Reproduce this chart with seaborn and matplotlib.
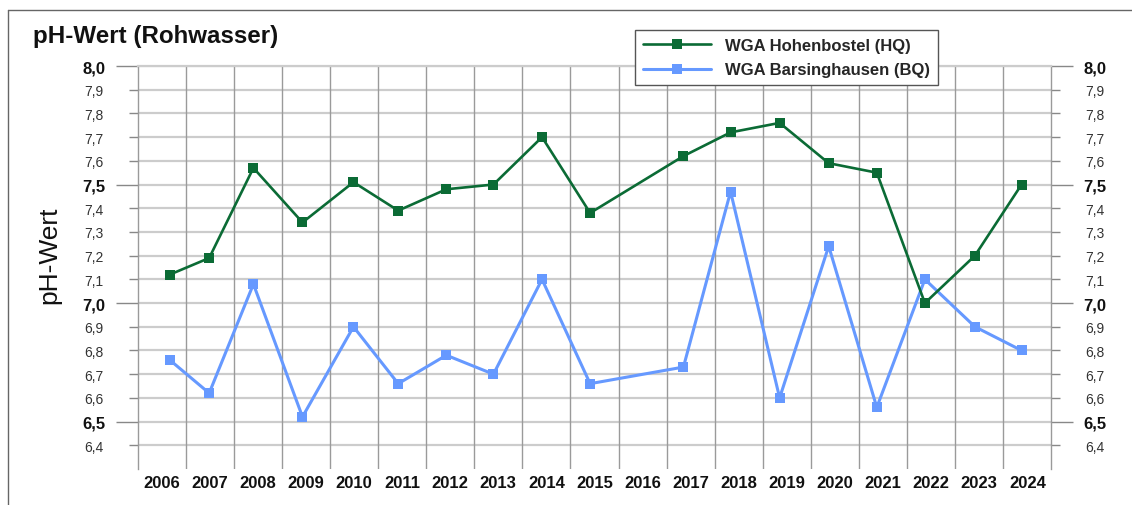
import matplotlib
matplotlib.use("Agg")
import matplotlib.pyplot as plt
import matplotlib.ticker as mtick
from matplotlib.lines import Line2D
import seaborn as sns
import pandas as pd

# Sampling dates as decimal years (same for both waterworks)
sample_dates = [2006.67, 2007.49, 2008.41, 2009.43, 2010.49, 2011.42, 2012.42, 2013.40, 2014.41,
                2015.41, 2017.35, 2018.33, 2019.35, 2020.37, 2021.37, 2022.37, 2023.41, 2024.38]
ph_hq = [7.12, 7.19, 7.57, 7.34, 7.51, 7.39, 7.48, 7.50, 7.70,
         7.38, 7.62, 7.72, 7.76, 7.59, 7.55, 7.00, 7.20, 7.50]
ph_bq = [6.76, 6.62, 7.08, 6.52, 6.90, 6.66, 6.78, 6.70, 7.10,
         6.66, 6.73, 7.47, 6.60, 7.24, 6.56, 7.10, 6.90, 6.80]
year_labels = [str(y) for y in range(2006, 2025)]
label_hq = 'WGA Hohenbostel (HQ)'
label_bq = 'WGA Barsinghausen (BQ)'

GREEN = '#0b6b35'
BLUE = '#6699ff'

sns.set_style('white')
plt.rcParams['font.family'] = ['Liberation Sans', 'DejaVu Sans']

df = pd.DataFrame({'Datum': sample_dates, 'HQ': ph_hq, 'BQ': ph_bq})

W, H = 1132, 506
fig = plt.figure(figsize=(W / 100, H / 100), dpi=100)
left, right, top, bottom = 137.5, 1051.4, 67, 470
ax = fig.add_axes([left / W, 1 - bottom / H, (right - left) / W, (bottom - top) / H])

sns.lineplot(data=df, x='Datum', y='HQ', ax=ax, color=GREEN, linewidth=1.9,
             marker='s', markersize=7, markeredgewidth=0, label=label_hq, zorder=4)
sns.lineplot(data=df, x='Datum', y='BQ', ax=ax, color=BLUE, linewidth=2.2,
             marker='s', markersize=7, markeredgewidth=0, label=label_bq, zorder=3)

ax.set_xlim(2006, 2025)
ax.set_ylim(6.3, 8.0)

# x axis: gridlines at year boundaries, labels centred in each year
ax.set_xticks(range(2006, 2026))
ax.set_xticklabels([])
ax.set_xticks([y + 0.5 for y in range(2006, 2025)], minor=True)
ax.set_xticklabels(year_labels, minor=True, fontsize=12, fontweight='bold')
ax.tick_params(axis='x', which='both', length=0, pad=4, colors='#111111')

# y axis: bold labels at every 0.5, normal ones in between, on both sides
major_y = [6.5, 7.0, 7.5, 8.0]
minor_y = [6.4, 6.6, 6.7, 6.8, 6.9, 7.1, 7.2, 7.3, 7.4, 7.6, 7.7, 7.8, 7.9]
fmt = mtick.FuncFormatter(lambda v, _: f'{v:.1f}'.replace('.', ','))
ax.yaxis.set_major_locator(mtick.FixedLocator(major_y))
ax.yaxis.set_minor_locator(mtick.FixedLocator(minor_y))
ax.yaxis.set_major_formatter(fmt)
ax.yaxis.set_minor_formatter(fmt)
ax.tick_params(axis='y', which='major', length=16, width=1, pad=7, color='#888888',
               labelsize=12, left=True, right=True, labelleft=True, labelright=True)
ax.tick_params(axis='y', which='minor', length=6.5, width=1, pad=18, color='#888888',
               labelsize=10, left=True, right=True, labelleft=True, labelright=True,
               labelcolor='#333333')
for lab in ax.get_yticklabels():
    lab.set_fontweight('bold')
    lab.set_color('#111111')

# grid lines
for yv in major_y + minor_y:
    ax.axhline(yv, color='#cccccc', linewidth=1.6, zorder=1)
for xv in range(2007, 2025):
    ax.axvline(xv, color='#9a9a9a', linewidth=1, zorder=1)

ax.spines['bottom'].set_visible(False)
ax.spines['top'].set_color('#cccccc')
ax.spines['top'].set_linewidth(1.6)
for s in ['left', 'right']:
    ax.spines[s].set_color('#9a9a9a')
    ax.spines[s].set_linewidth(1)

ax.set_xlabel('')
ax.set_ylabel('')

leg = ax.legend(loc='upper left', bbox_to_anchor=(635 / W, 1 - 31 / H), bbox_transform=fig.transFigure,
                borderaxespad=0, frameon=True, fancybox=False, framealpha=1, edgecolor='#555555',
                prop={'size': 12, 'weight': 'bold'}, handlelength=4.1, handletextpad=0.85,
                labelspacing=0.6, borderpad=0.45, markerscale=1.1)
leg.get_frame().set_linewidth(1)
leg.set_zorder(10)

fig.text(33 / W, 1 - 37 / H, 'pH-Wert (Rohwasser)', fontsize=17.4, fontweight='bold',
         va='center', ha='left', color='#111111')
fig.text(49 / W, 1 - 255 / H, 'pH-Wert', fontsize=19, rotation=90, va='center', ha='center',
         color='#111111')

# outer frame of the graphic
fig.add_artist(Line2D([8 / W, 1.0], [1 - 11 / H, 1 - 11 / H], transform=fig.transFigure,
                      color='#666666', linewidth=1))
fig.add_artist(Line2D([8 / W, 8 / W], [0, 1 - 11 / H], transform=fig.transFigure,
                      color='#666666', linewidth=1))

plt.savefig('out.png', dpi=100)
plt.close()
